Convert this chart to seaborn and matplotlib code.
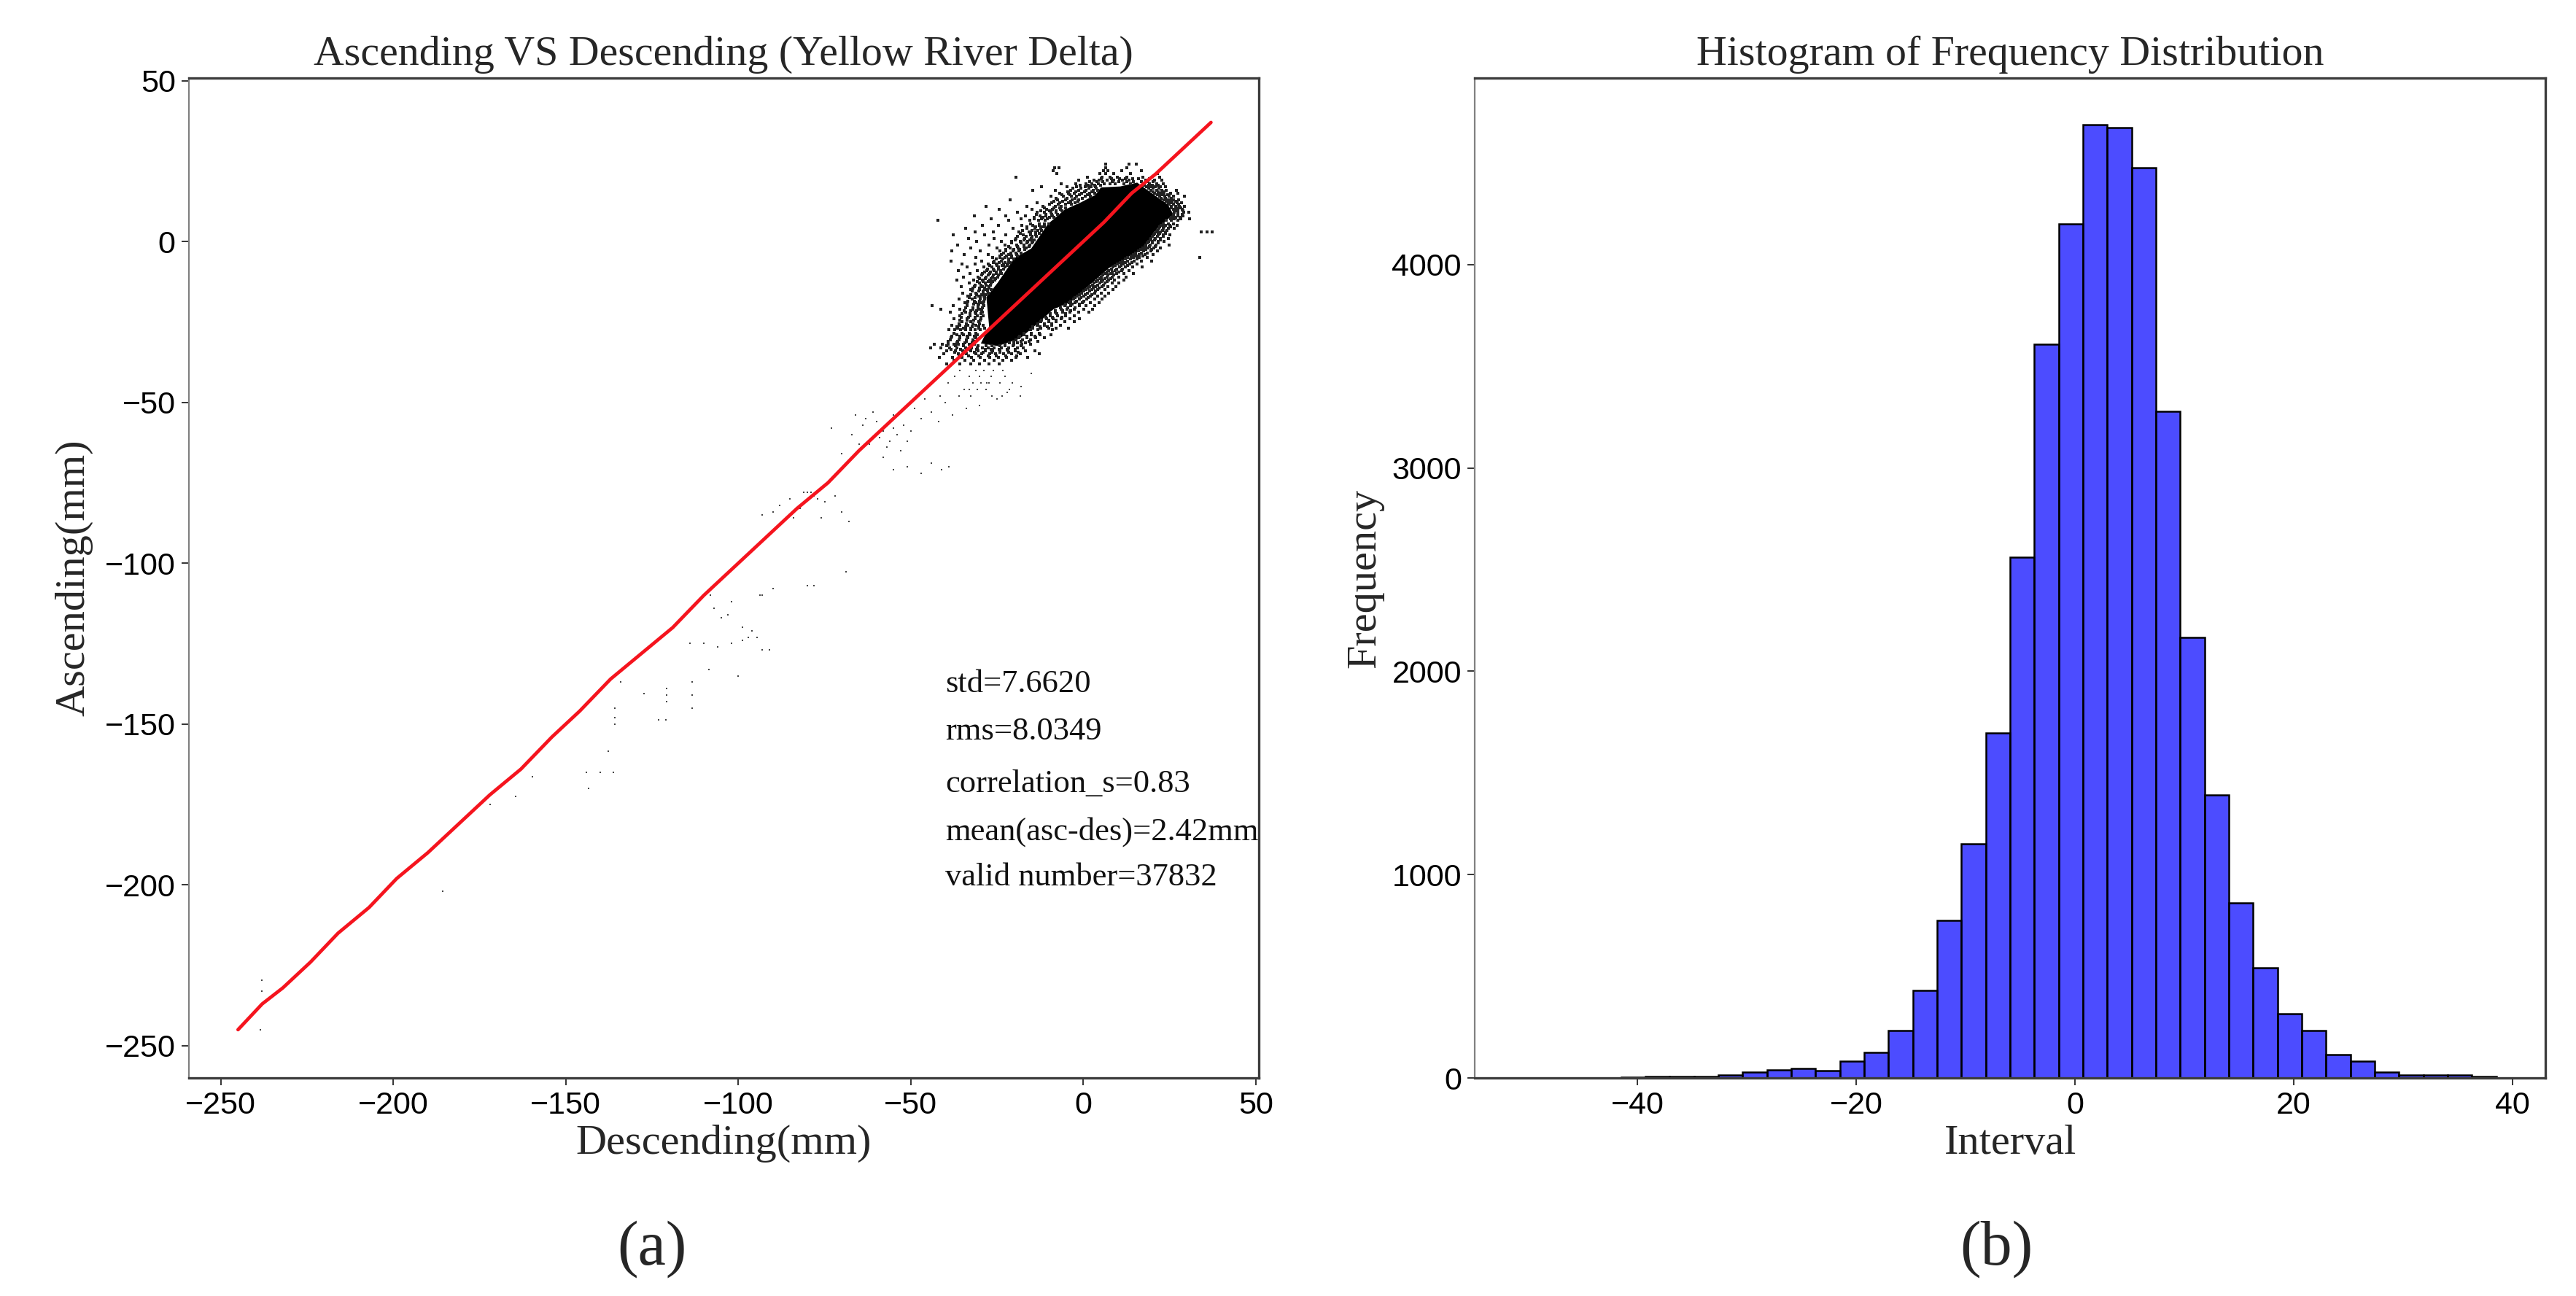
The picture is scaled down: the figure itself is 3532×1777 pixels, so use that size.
import matplotlib
matplotlib.use("Agg")
import matplotlib.pyplot as plt
import numpy as np
import seaborn as sns

W, H = 3532, 1777

# red line (a little stair-stepped)
line_x = [-245, -238, -232, -224, -216, -207, -199, -190, -181, -172, -163, -154, -146, -137, -128,
          -119, -110, -101, -92, -83, -74, -65, -56, -47, -38, -29, -20, -11, -2, 6, 14, 21, 27, 32, 37]
line_y = [-245, -237, -232, -224, -215, -207, -198, -190, -181, -172, -164, -154, -146, -136, -128,
          -120, -110, -101, -92, -83, -75, -65, -56, -47, -38, -29, -20, -11, -2, 6, 15, 21, 27, 32, 37]

# solid black part of the cloud, outline
core_x = [-29.7, -27.3, -28.1, -24.8, -20, -15.1, -10.3, -5.4, -0.6, 3.5, 5.1, 10.7, 15.6, 20.5, 24.5, 26.1,
          21.3, 17.2, 12.4, 7.5, 1.0, -3.8, -8.7, -13.5, -18.4, -24.8]
core_y = [-31.7, -26.4, -17.3, -12.8, -5.2, -2.2, 5.4, 9.9, 12.2, 14.5, 16.8, 17.1, 18.3, 14.5, 11.5, 8.4,
          3.9, -2.2, -5.2, -8.2, -14.3, -18.9, -21.1, -25.7, -30.2, -32.5]

# speckle around the cloud, one (y, x positions) row at a time
halo_rows = [
    (24, [6.5, 13.2, 15.4]),
    (23, [-8.3, -7.1, 6.4, 12.6]),
    (22, [-8.8, 5.9, 7.2, 11.1, 16.8]),
    (21, [-7.6, 4.8, 6.5, 8.9, 13.7, 21.4]),
    (20, [-19.6, 1.2, 5.4, 7.7, 9.8, 12.5, 17.3, 22.2]),
    (19, [-1.4, 3.1, 4.6, 6.9, 8.8, 11.4, 13.2, 18.1, 20.6, 22.8]),
    (18, [-6.5, -2.2, 0.7, 2.4, 4.4, 6.1, 7.7, 9.2, 11.8, 13.6, 17.2, 19.1, 21.3, 23.2]),
    (17, [-12.1, -4.8, -1.9, 0.6, 2.2, 3.6, 18.4, 19.5, 20.8, 22.4, 23.9]),
    (16, [-14.6, -8.2, -3.6, -1.3, 0.8, 2.9, 4.1, 19.6, 21.2, 22.7, 24.1, 26.9]),
    (15, [-6.9, -4.4, -2.6, -0.4, 1.8, 3.2, 20.7, 22.3, 23.4, 25.2, 27.3]),
    (14, [-9.4, -5.8, -3.4, -1.9, 0.5, 2.1, 22.1, 23.6, 24.9, 26.2, 29.4]),
    (13, [-21.2, -7.5, -5.1, -3.2, -1.4, 23.4, 24.6, 26.1, 27.6]),
    (12, [-13.5, -9.1, -6.8, -4.4, -2.5, 24.6, 25.8, 27.1, 28.5]),
    (11, [-28.1, -16.4, -11.8, -8.2, -6.4, 25.4, 26.7, 27.8, 29.3]),
    (10, [-24.3, -14.9, -10.6, -8.9, -6.7, 26.1, 27.4, 28.6]),
    (9, [-19.2, -13.3, -11.2, -9.4, -7.8, 26.4, 27.5, 29.1, 30.6]),
    (8, [-31.5, -22.4, -16.7, -12.6, -10.8, -8.9, 26.2, 27.3, 28.9]),
    (7, [-26.8, -18.1, -14.2, -12.1, -10.4, 25.3, 26.4, 28.2, 30.8]),
    (6.5, [-42.2, -21.6, -15.6, -12.9, -11.1, 24.1, 25.4, 27.4]),
    (5, [-29.3, -24.7, -17.8, -14.6, -12.8, 22.6, 23.8, 25.1, 27.2]),
    (4, [-34.2, -20.4, -16.3, -14.1, -12.4, 21.8, 23.1, 24.6, 26.3]),
    (3, [-31.4, -26.1, -18.7, -15.8, -13.9, 21.2, 22.4, 23.9, 34.2, 35.8, 37.4]),
    (2, [-37.8, -28.6, -22.5, -17.4, -15.2, -13.8, 20.4, 21.6, 23.2, 25.1]),
    (1, [-33.2, -25.8, -19.6, -16.9, -15.1, 19.6, 20.9, 22.3, 24.6]),
    (0, [-30.9, -23.7, -20.8, -18.2, -16.1, -14.7, 18.9, 20.1, 21.7, 23.4]),
    (-1, [-36.4, -27.4, -22.6, -19.4, -17.2, -15.6, 18.2, 19.4, 21.1, 24.8]),
    (-2, [-32.7, -25.1, -21.3, -18.9, -16.6, 17.2, 18.8, 20.4, 22.3]),
    (-3, [-38.1, -29.8, -24.2, -22.4, -20.3, -18.7, 15.9, 17.4, 19.6, 21.4]),
    (-4, [-34.6, -27.6, -23.7, -21.6, -19.4, 14.6, 16.1, 17.9, 20.2]),
    (-5, [-31.2, -26.3, -24.1, -22.6, -20.8, 12.8, 14.4, 16.3, 18.6, 33.8]),
    (-6, [-38.4, -29.4, -25.9, -23.8, -21.7, 11.4, 12.9, 14.7, 16.8, 19.7]),
    (-7, [-35.1, -31.4, -27.6, -25.2, -23.1, -21.9, 9.8, 11.6, 13.4, 15.6]),
    (-8, [-33.6, -28.8, -26.4, -24.6, -22.8, 8.6, 10.4, 12.2, 14.3, 17.1]),
    (-9, [-36.2, -30.7, -27.9, -25.8, -23.9, 7.4, 9.2, 11.1, 13.3]),
    (-10, [-32.9, -29.3, -27.1, -25.2, -23.7, 6.2, 7.9, 9.6, 11.7, 14.6]),
    (-11, [-34.8, -30.6, -28.2, -26.3, -24.8, 5.1, 6.8, 8.4, 10.3, 12.4]),
    (-12, [-36.7, -31.8, -29.2, -27.1, -25.6, 4.2, 5.6, 7.3, 9.1, 11.8]),
    (-13, [-33.1, -30.2, -28.4, -26.7, 3.1, 4.7, 6.2, 8.3, 10.2]),
    (-14, [-35.4, -31.6, -29.3, -27.4, 1.9, 3.6, 5.4, 7.2, 9.4]),
    (-15, [-32.6, -30.1, -28.2, -26.8, 0.8, 2.4, 4.1, 6.3, 8.6]),
    (-16, [-34.9, -31.2, -29.1, -27.6, -0.6, 1.1, 3.2, 5.2, 7.4]),
    (-17, [-33.4, -30.4, -28.9, -1.8, 0.1, 2.1, 4.1, 6.2]),
    (-18, [-36.1, -32.2, -29.8, -28.6, -2.9, -1.1, 0.9, 3.2, 5.4]),
    (-19, [-34.3, -31.1, -29.4, -4.2, -2.4, -0.3, 2.1, 4.6]),
    (-20, [-43.9, -37.8, -33.6, -30.6, -28.9, -5.3, -3.6, -1.2, 0.8, 3.4]),
    (-21, [-41.2, -35.7, -32.1, -30.2, -6.4, -4.7, -2.6, 0.2, 2.6]),
    (-22, [-38.6, -34.1, -31.4, -29.3, -8.1, -5.9, -3.8, -1.4, 1.7]),
    (-23, [-35.8, -32.9, -30.7, -29.1, -9.6, -7.4, -5.2, -2.7]),
    (-24, [-37.4, -33.6, -31.4, -29.6, -10.7, -8.8, -6.4, -3.9, -1.2]),
    (-25, [-35.2, -32.7, -30.3, -12.3, -10.1, -7.8, -5.4, -2.6]),
    (-26, [-38.1, -35.9, -33.4, -31.2, -29.1, -13.4, -11.2, -9.2, -6.7]),
    (-27, [-36.4, -34.8, -32.6, -30.4, -28.7, -14.6, -12.4, -10.1, -7.8, -4.3]),
    (-27.5, [-38.9, -37.2, -35.6, -34.1, -32.7, -31.3, -29.9, -15.3, -13.1, -8.9]),
    (-29, [-36.7, -34.8, -32.9, -30.8, -17.2, -15.1, -12.6, -9.4]),
    (-30, [-38.4, -35.9, -33.4, -31.2, -18.6, -16.4, -13.8, -11.2]),
    (-31, [-39.1, -36.4, -33.8, -31.6, -20.2, -18.1, -15.7, -13.2]),
    (-32, [-43.1, -40.8, -39.2, -37.6, -36.2, -34.8, -33.1, -31.5, -22.6, -20.1, -17.9, -15.3]),
    (-33, [-44.3, -41.2, -38.8, -36.6, -34.2, -32.4, -30.8, -29.2, -27.6, -25.9, -23.8, -21.7, -19.2, -17.4]),
    (-34, [-39.6, -37.1, -34.9, -32.7, -30.6, -28.4, -26.3, -24.1, -21.9, -19.8, -16.8, -14.1]),
    (-35, [-40.4, -36.2, -33.8, -31.1, -29.4, -27.2, -25.4, -23.2, -20.7, -18.3, -12.8]),
    (-36, [-41.8, -37.9, -35.1, -32.4, -29.8, -27.1, -24.6, -22.3, -19.6, -16.1]),
    (-37, [-37.4, -34.3, -31.7, -28.6, -25.9, -23.4, -20.8]),
    (-38, [-39.6, -35.8, -32.6, -30.2, -27.4, -24.3]),
    # the denser band hugging the solid part
    (19.5, [5.3, 8.2, 10.4, 12.1, 14.3, 15.9, 19.2]),
    (18.5, [1.8, 3.9, 5.7, 8.4, 10.3, 12.7, 14.6, 16.8, 18.7, 20.2]),
    (17.5, [-0.9, 1.4, 3.2, 4.9, 17.6, 18.9, 20.1, 21.7]),
    (16.5, [-3.1, -0.7, 1.6, 3.7, 18.9, 20.3, 21.9]),
    (15.5, [-4.6, -2.2, 0.3, 2.4, 20.2, 21.6, 23.1]),
    (14.5, [-6.3, -3.9, -1.1, 1.2, 21.4, 22.8, 24.4]),
    (13.5, [-7.8, -4.7, -2.4, -0.3, 22.6, 23.9, 25.4]),
    (12.5, [-8.6, -5.9, -3.7, -1.6, 24.1, 25.3, 26.8]),
    (11.5, [-9.8, -7.3, -5.2, -3.4, 24.9, 26.2, 27.7]),
    (10.5, [-11.2, -8.6, -6.8, -5.1, 25.6, 26.9, 28.2]),
    (9.5, [-12.4, -9.7, -7.9, -6.2, 26.3, 27.2, 28.9]),
    (8.5, [-13.6, -10.9, -9.1, -7.4, 26.1, 27.4, 28.7]),
    (7.5, [-14.3, -11.8, -9.9, -8.6, 25.6, 26.8, 28.1]),
    (5.5, [-15.2, -12.7, -11.3, -10.1, 23.2, 24.6, 26.1]),
    (4.5, [-16.4, -13.8, -12.2, -11.2, 22.1, 23.4, 25.2]),
    (3.5, [-17.6, -14.9, -13.1, -12.1, 21.4, 22.9, 24.3]),
    (2.5, [-18.3, -15.4, -13.9, -12.8, 20.7, 22.1, 23.8]),
    (1.5, [-19.1, -16.6, -14.8, -13.6, 20.1, 21.4, 23.2]),
    (0.5, [-19.8, -17.3, -15.6, -14.2, 19.3, 20.6, 22.4]),
    (-0.5, [-20.7, -18.1, -16.4, -14.9, 18.6, 19.9, 21.6]),
    (-1.5, [-21.6, -19.2, -17.1, -15.7, 17.8, 19.2, 20.9]),
    (-2.5, [-22.4, -20.1, -18.4, -16.9, 16.6, 18.1, 19.7]),
    (-3.5, [-23.2, -21.1, -19.6, -18.1, 15.2, 16.8, 18.6]),
    (-4.5, [-24.1, -22.2, -20.7, -19.1, 13.8, 15.3, 17.2]),
    (-5.5, [-25.3, -23.4, -21.6, -20.2, 12.1, 13.7, 15.6]),
    (-6.5, [-26.1, -24.4, -22.8, -21.3, 10.6, 12.2, 14.1]),
    (-7.5, [-27.2, -25.1, -23.6, -22.1, 9.2, 10.9, 12.8]),
    (-8.5, [-27.8, -26.1, -24.6, -23.1, 8.1, 9.6, 11.4]),
    (-9.5, [-28.6, -26.9, -25.3, -23.9, 6.9, 8.4, 10.2]),
    (-10.5, [-29.4, -27.6, -26.1, -24.7, 5.7, 7.1, 8.9]),
    (-11.5, [-30.1, -28.3, -26.8, -25.4, 4.8, 6.3, 7.9]),
    (-12.5, [-30.8, -29.1, -27.6, -26.2, 3.7, 5.2, 6.9]),
    (-13.5, [-31.4, -29.7, -28.1, -26.9, 2.6, 4.1, 5.8]),
    (-14.5, [-31.9, -30.2, -28.6, -27.3, 1.4, 2.9, 4.6]),
    (-15.5, [-32.2, -30.4, -29.1, -27.8, 0.1, 1.8, 3.6]),
    (-16.5, [-32.7, -30.9, -29.4, -28.2, -1.2, 0.6, 2.4]),
    (-17.5, [-33.1, -31.3, -29.8, -28.6, -2.4, -0.7, 1.3]),
    (-18.5, [-33.4, -31.6, -30.1, -28.9, -3.7, -1.9, 0.2]),
    (-19.5, [-33.7, -31.8, -30.3, -29.1, -5.1, -3.2, -1.1]),
    (-20.5, [-34.2, -32.1, -30.6, -29.2, -6.6, -4.6, -2.3]),
    (-21.5, [-34.6, -32.6, -30.9, -29.4, -8.2, -6.1, -3.6]),
    (-22.5, [-35.1, -32.9, -31.1, -29.6, -9.6, -7.6, -5.1]),
    (-23.5, [-35.4, -33.2, -31.4, -29.7, -10.9, -8.9, -6.3]),
    (-24.5, [-35.8, -33.6, -31.7, -29.9, -12.1, -10.1, -7.9]),
    (-25.5, [-36.1, -33.9, -31.9, -30.1, -13.2, -11.3, -9.1]),
    (-26.5, [-36.6, -34.2, -32.2, -30.3, -14.7, -12.6, -10.4]),
    (-28.5, [-37.6, -35.2, -33.1, -31.2, -17.2, -15.1, -12.8]),
    (-29.5, [-38.2, -35.7, -33.6, -31.6, -18.4, -16.4, -14.1]),
    (-30.5, [-38.6, -36.1, -33.9, -31.9, -19.6, -17.6, -15.3]),
    (-31.5, [-39.1, -36.6, -34.3, -32.2, -21.4, -19.2, -16.8]),
    (-32.5, [-39.7, -37.1, -34.8, -30.6, -28.2, -26.4, -24.1, -22.6, -20.4, -18.1]),
    (-33.5, [-38.4, -35.6, -33.1, -30.9, -28.4, -26.7, -24.4, -22.1, -19.8]),
    (-34.5, [-37.2, -34.4, -31.6, -29.1, -26.6, -24.2, -21.6, -18.9]),
    (-35.5, [-36.1, -33.2, -30.4, -27.6, -25.2, -22.4, -19.3]),
]

# sparse points below the line, left to right down the panel
sparse_x = [-35.9, -31.1, -28.9, -26.1, -23.4, -37.2, -33.1, -30.2, -26.7, -22.6, -39.1, -31.9, -29.6, -27.4, -24.1,
            -20.6, -34.6, -30.8, -28.2, -21.4, -41.6, -32.7, -26.4, -23.6, -18.2,
            -73, -70, -67, -66, -64, -62, -60, -59, -58, -57, -56, -55, -54, -53, -52, -51, -50, -65, -63, -61, -58, -55,
            -49, -47, -46, -44, -42, -40, -38, -36, -34, -33, -30, -28, -25, -22, -18, -15,
            -55, -51, -47, -44, -41, -39,
            -93, -90, -85, -82, -81, -80, -79, -78, -77, -75, -72, -70, -68, -88, -84, -76,
            -68.7, -80, -78, -93.8, -93, -90, -108, -107, -102, -105, -103,
            -98.7, -97, -96, -94.5, -114, -110, -106, -102, -98.7, -93, -91,
            -108.6, -100, -120.7, -120.7, -120.7, -127.4, -113.3, -113.3, -113.3, -135.8, -135.8, -135.8, -134, -123, -121,
            -137.7, -144, -140, -136.3, -143.4, -159.6, -164.6, -172, -185.7, -238, -238, -238.6]
sparse_y = [-40, -40, -40, -40, -40, -42, -42, -42, -42, -42, -44, -44, -44, -44, -44,
            -44, -46, -46, -46, -46, -48, -48, -48, -48, -48,
            -58, -66, -60, -54, -57, -63, -56, -61, -59, -64, -62, -58, -60, -65, -57, -62, -59, -63, -55, -53, -67, -54,
            -52, -55, -49, -53, -56, -50, -54, -48, -52, -46, -51, -44, -49, -47, -45, -41,
            -71, -70, -72, -69, -71, -70,
            -85, -84, -80, -83, -78, -78, -78, -79, -80, -81, -79, -84, -87, -82, -86, -86,
            -102.7, -107, -107, -110, -110, -108, -110, -114, -112, -117, -116,
            -120, -123, -121, -123, -125, -125, -126, -125, -124, -127, -127,
            -133, -135, -139, -141, -143, -140.6, -137, -141, -145, -145, -148, -150, -137, -148.7, -148.7,
            -158.5, -165, -165, -165, -170, -166.4, -172.4, -175, -202, -229.6, -233, -245]

# histogram: bin counts left to right
hist_counts = [1, 0, 0, 0, 5, 6, 6, 6, 16, 29, 38, 45, 35, 84, 125, 234, 430, 774, 1150, 1696, 2560, 3610, 4200,
               4690, 4674, 4475, 3277, 2168, 1391, 861, 543, 315, 234, 116, 84, 29, 16, 16, 16, 6]
hist_start = -50.4
hist_stop = 38.5

stat_labels = ["std=7.6620", "rms=8.0349", "correlation_s=0.83", "mean(asc-des)=2.42mm", "valid number=37832"]
stat_y = [-137.6, -152.3, -168.7, -183.5, -197.7]

scatter_ticks = [-250, -200, -150, -100, -50, 0, 50]
hist_xticks = [-40, -20, 0, 20, 40]
hist_yticks = [0, 1000, 2000, 3000, 4000]

sns.set_theme(style="ticks")
plt.rcParams["font.family"] = ["Liberation Sans", "DejaVu Sans"]
SERIF = "Liberation Serif"


def style_axes(ax):
    for side in ["top", "right", "bottom"]:
        ax.spines[side].set_linewidth(2.4)
        ax.spines[side].set_color("#3c3c3c")
    ax.spines["left"].set_linewidth(1.6)
    ax.spines["left"].set_color("#808080")
    ax.tick_params(labelsize=31, length=7, width=1.4, color="#333333", labelcolor="black", pad=6)


fig = plt.figure(figsize=(W / 100, H / 100), dpi=100)
ax1 = fig.add_axes([258.7 / W, 1 - 1478 / H, 1467 / W, 1371 / H])
ax2 = fig.add_axes([2022 / W, 1 - 1478 / H, 1468 / W, 1371 / H])

halo_x = [x for y, xs in halo_rows for x in xs]
halo_y = [y for y, xs in halo_rows for x in xs]

ax1.fill(core_x, core_y, color="black", linewidth=0, zorder=1)
sns.scatterplot(x=halo_x, y=halo_y, marker="s", s=8, color="#222222", linewidth=0, ax=ax1, zorder=2)
sns.scatterplot(x=sparse_x, y=sparse_y, marker="s", s=3, color="#444444", linewidth=0, ax=ax1, zorder=2)
sns.lineplot(x=line_x, y=line_y, sort=False, estimator=None, color="#f5141e", linewidth=3.4, ax=ax1, zorder=3)

ax1.set_xlim(-259.3, 50.8)
ax1.set_ylim(-260, 50.8)
ax1.set_xticks(scatter_ticks)
ax1.set_yticks(scatter_ticks)
ax1.set_title("Ascending VS Descending (Yellow River Delta)", family=SERIF, fontsize=41.7, pad=13)
ax1.set_xlabel("Descending(mm)", family=SERIF, fontsize=42, labelpad=4)
ax1.set_ylabel("Ascending(mm)", family=SERIF, fontsize=42, labelpad=12)
for label, y in zip(stat_labels, stat_y):
    ax1.text(-40, y, label, family=SERIF, fontsize=32, va="center", ha="left", color="#111111")
style_axes(ax1)

edges = np.linspace(hist_start, hist_stop, len(hist_counts) + 1)
centers = (edges[:-1] + edges[1:]) / 2
sns.histplot(x=centers, weights=hist_counts, bins=len(hist_counts), binrange=(hist_start, hist_stop),
             color="blue", alpha=0.7, edgecolor="black", linewidth=1.8, ax=ax2)
ax2.set_xlim(-54.9, 43)
ax2.set_ylim(0, 4918)
ax2.set_xticks(hist_xticks)
ax2.set_yticks(hist_yticks)
ax2.set_title("Histogram of Frequency Distribution", family=SERIF, fontsize=41.7, pad=13)
ax2.set_xlabel("Interval", family=SERIF, fontsize=42, labelpad=4)
ax2.set_ylabel("Frequency", family=SERIF, fontsize=42, labelpad=8)
style_axes(ax2)

fig.text(894 / W, 1 - 1713 / H, "(a)", family=SERIF, fontsize=62, ha="center", va="center")
fig.text(2737 / W, 1 - 1713 / H, "(b)", family=SERIF, fontsize=62, ha="center", va="center")

fig.savefig("out.png", dpi=100)
